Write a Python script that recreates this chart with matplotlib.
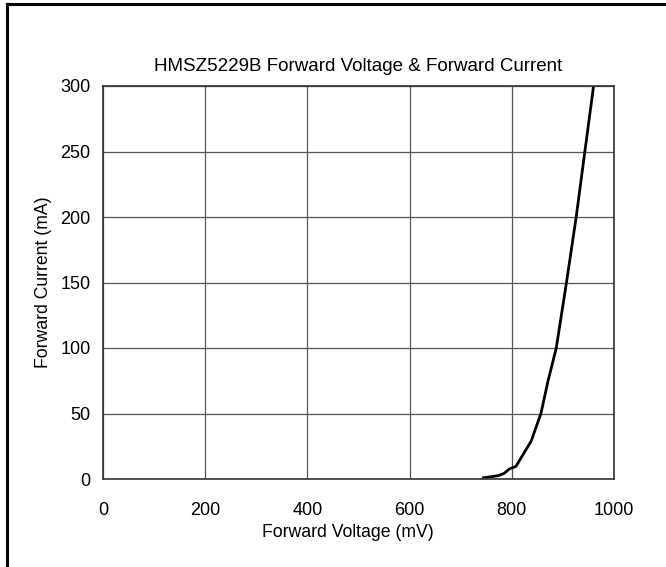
import matplotlib
matplotlib.use("Agg")
import matplotlib.pyplot as plt
from matplotlib.lines import Line2D

plt.rcParams['font.family'] = ['Liberation Sans', 'DejaVu Sans']

# forward voltage (mV) vs forward current (mA)
voltage = [742, 773, 785, 795, 808, 838, 857, 871, 887, 907, 926, 943, 960]
current = [0.8, 2.5, 4.3, 7.6, 9.6, 29, 50, 75, 100, 150, 200, 250, 300]

x_ticks = [0, 200, 400, 600, 800, 1000]
y_ticks = [0, 50, 100, 150, 200, 250, 300]

fig = plt.figure(figsize=(6.66, 5.67), dpi=100)
ax = fig.add_axes([103/666, 1 - 479/567, 511/666, 393/567])

ax.plot(voltage, current, color='black', lw=2.0, solid_capstyle='butt')

ax.set_xlim(0, 1000)
ax.set_ylim(0, 300)
ax.set_xticks(x_ticks)
ax.set_yticks(y_ticks)
ax.tick_params(length=0, labelsize=13)
ax.tick_params(axis='x', pad=16.5)
ax.tick_params(axis='y', pad=9)
ax.grid(True, color='#555555', lw=0.9)
ax.set_axisbelow(True)
for s in ax.spines.values():
    s.set_color('#333333')
    s.set_linewidth(1.2)

ax.set_title("HMSZ5229B Forward Voltage & Forward Current", fontsize=13.5, pad=11)
ax.set_xlabel("Forward Voltage (mV)", fontsize=12.7, labelpad=3.5, x=0.48)
ax.set_ylabel("Forward Current (mA)", fontsize=12.7, labelpad=6)

# outer frame (top and left edges only)
fig.add_artist(Line2D([6.5/666, 6.5/666], [0, 1 - 4/567], color='black', lw=2.2,
                      transform=fig.transFigure))
fig.add_artist(Line2D([6.5/666, 1], [1 - 4/567, 1 - 4/567], color='black', lw=2.2,
                      transform=fig.transFigure))

fig.savefig("out.png", dpi=100)
